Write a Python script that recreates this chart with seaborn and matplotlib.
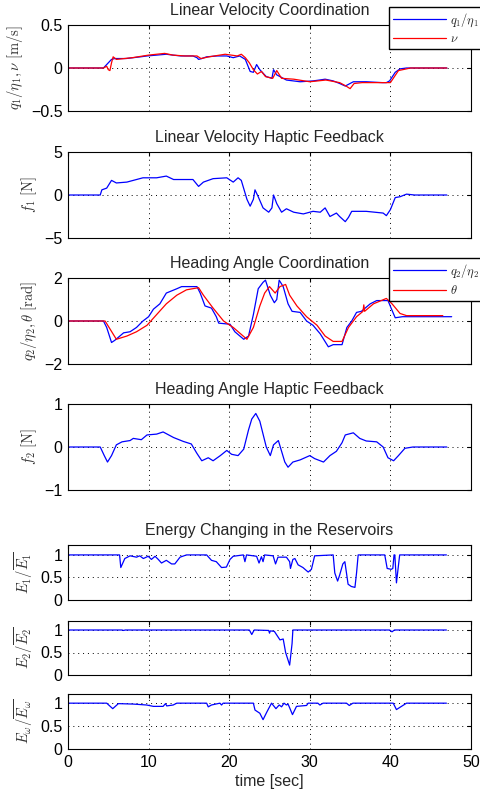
import matplotlib
matplotlib.use("Agg")
import matplotlib.pyplot as plt
import seaborn as sns
import numpy as np

# ---- data -------------------------------------------------------------
t_q1 = [0, 4.0, 4.4, 4.8, 5.4, 5.8, 6.5, 7.2, 8.1, 9.0,
        9.8, 11.0, 12.2, 13.0, 14.0, 15.5, 16.0, 16.2, 16.6, 17.2,
        18.5, 19.7, 20.5, 21.3, 22.0, 22.6, 23.0, 23.4, 23.8, 24.6,
        25.3, 25.5, 25.9, 27.1, 28.8, 30.4, 31.2, 31.9, 32.9, 33.7,
        34.4, 35.0, 35.4, 37.0, 39.0, 39.5, 39.9, 40.6, 41.2, 42.0,
        47.0]
q1 = [0, 0, 0.0, 0.04, 0.10, 0.11, 0.11, 0.11, 0.12, 0.13,
      0.14, 0.15, 0.16, 0.15, 0.14, 0.14, 0.12, 0.10, 0.11, 0.13,
      0.14, 0.14, 0.12, 0.14, 0.10, -0.04, -0.05, 0.04, -0.02, -0.10,
      -0.12, -0.02, -0.08, -0.14, -0.16, -0.15, -0.14, -0.13, -0.15, -0.18,
      -0.21, -0.18, -0.16, -0.16, -0.17, -0.17, -0.15, -0.05, -0.01, 0,
      0]

t_nu = [0, 4.4, 4.8, 5.0, 5.2, 5.4, 5.6, 6.0, 7.0, 8.0,
        10.0, 12.0, 13.0, 14.5, 16.0, 16.5, 17.5, 19.5, 21.0, 21.5,
        22.0, 22.5, 23.0, 23.5, 24.0, 24.5, 25.4, 25.9, 26.5, 28.0,
        30.0, 32.0, 33.7, 34.5, 35.0, 35.5, 36.5, 38.0, 40.0, 40.5,
        41.0, 42.0, 42.5, 47.0]
nu = [0, 0, 0.02, -0.02, -0.03, 0.06, 0.13, 0.10, 0.11, 0.12,
      0.15, 0.17, 0.15, 0.14, 0.14, 0.11, 0.13, 0.16, 0.14, 0.16,
      0.12, 0.06, -0.02, -0.07, -0.04, -0.10, -0.12, -0.03, -0.12, -0.13,
      -0.16, -0.14, -0.17, -0.21, -0.24, -0.18, -0.17, -0.17, -0.17, -0.10,
      -0.03, -0.01, 0, 0]

t_f1 = [0, 4.0, 4.2, 4.8, 5.4, 6.0, 7.3, 8.1, 9.3, 11.0,
        12.2, 13.1, 15.5, 16.2, 16.8, 18.0, 19.7, 20.5, 21.1, 21.5,
        22.2, 22.6, 23.0, 23.2, 23.6, 24.2, 24.9, 25.3, 25.5, 25.9,
        26.5, 27.1, 28.0, 29.2, 30.4, 31.3, 31.9, 32.5, 33.3, 33.7,
        34.4, 34.8, 35.2, 37.0, 39.1, 39.5, 40.0, 40.6, 41.2, 42.0,
        43.0, 47.0]
f1 = [0, 0, 0.6, 0.8, 1.7, 1.4, 1.5, 1.7, 2.0, 2.0,
      2.2, 1.8, 1.8, 1.0, 1.5, 1.9, 2.0, 1.5, 2.0, 1.7,
      -0.5, -1.3, -0.5, 0.6, -0.2, -1.5, -2.0, -1.5, 0.0, -1.0,
      -2.0, -1.6, -2.0, -2.2, -1.9, -2.0, -1.5, -2.5, -2.1, -2.5,
      -3.1, -2.6, -1.9, -1.9, -2.1, -2.4, -1.7, -0.3, -0.2, 0.1,
      0.0, 0.0]

t_q2 = [0, 4.4, 4.8, 5.4, 5.8, 6.9, 7.7, 8.5, 9.3, 10.0,
        10.6, 11.4, 12.2, 13.5, 14.1, 16.0, 16.4, 17.0, 17.8, 18.4,
        18.7, 20.1, 20.7, 21.8, 22.4, 23.0, 23.6, 24.2, 24.5, 25.1,
        25.6, 25.9, 26.2, 26.7, 27.3, 27.8, 28.8, 29.6, 30.4, 31.3,
        32.3, 32.9, 34.0, 34.6, 35.2, 35.8, 36.4, 37.5, 38.3, 39.7,
        40.2, 40.6, 41.5, 47.6]
q2 = [0, 0, -0.3, -1.0, -0.9, -0.55, -0.5, -0.3, 0.0, 0.2,
      0.55, 0.8, 1.3, 1.5, 1.6, 1.6, 1.3, 0.7, 0.6, 0.2,
      -0.1, -0.15, -0.5, -0.85, -0.7, 0.3, 1.5, 1.8, 1.9, 1.2,
      0.85, 1.0, 1.9, 1.6, 0.8, 0.45, 0.4, 0.0, -0.2, -0.6,
      -1.2, -1.1, -1.1, -0.3, 0.0, 0.4, 0.45, 0.8, 0.95, 0.95,
      0.5, 0.15, 0.2, 0.2]

t_theta = [0, 4.6, 6.0, 7.3, 8.5, 9.8, 11.0, 12.2, 13.5, 14.7,
           16.2, 16.8, 18.0, 19.3, 20.5, 22.2, 23.0, 23.8, 24.4, 25.0,
           25.7, 26.3, 27.0, 27.5, 28.4, 29.6, 30.9, 31.9, 32.9, 34.0,
           34.8, 35.8, 36.6, 36.7, 36.8, 37.9, 39.5, 40.2, 41.2, 42.0,
           46.5]
theta = [0, 0, -0.85, -0.7, -0.5, -0.2, 0.3, 0.8, 1.2, 1.45,
         1.55, 1.2, 0.6, 0.0, -0.3, -0.85, -0.3, 0.7, 1.3, 1.6,
         1.3, 1.6, 1.7, 1.2, 0.7, 0.2, -0.2, -0.7, -0.95, -0.95,
         -0.3, 0.2, 0.45, 0.75, 0.45, 0.8, 1.05, 0.8, 0.35, 0.25,
         0.25]

t_f2 = [0, 4.0, 4.5, 4.9, 5.4, 6.0, 6.7, 7.7, 8.1, 9.1,
        9.8, 11.0, 11.8, 13.1, 14.3, 15.3, 16.0, 16.6, 17.4, 18.0,
        18.9, 19.7, 20.3, 21.1, 21.8, 22.4, 22.8, 23.3, 23.8, 24.6,
        25.1, 25.5, 26.1, 26.5, 26.9, 27.3, 27.9, 28.8, 30.0, 30.6,
        31.7, 32.5, 33.3, 34.0, 34.4, 35.4, 36.2, 37.0, 38.3, 39.1,
        39.7, 40.4, 41.0, 41.8, 42.8, 47.0]
f2 = [0, 0, -0.2, -0.35, -0.2, 0.05, 0.12, 0.15, 0.2, 0.17,
      0.28, 0.3, 0.35, 0.22, 0.13, 0.07, -0.15, -0.32, -0.25, -0.32,
      -0.2, -0.08, -0.17, -0.2, -0.05, 0.4, 0.65, 0.78, 0.6, 0.0,
      -0.2, 0.05, 0.15, -0.1, -0.35, -0.47, -0.35, -0.3, -0.2, -0.27,
      -0.35, -0.2, -0.1, 0.1, 0.28, 0.33, 0.2, 0.14, 0.12, 0.0,
      -0.25, -0.32, -0.2, -0.03, 0.0, 0.0]

t_e1 = [0, 6.4, 6.55, 7.05, 7.7, 8.5, 8.9, 9.35, 9.95, 10.35,
        10.8, 11.2, 11.6, 12.2, 12.85, 13.25, 13.9, 14.7, 17.2, 17.8,
        18.4, 19.05, 19.65, 20.1, 20.5, 21.75, 21.95, 22.15, 23.4, 23.7,
        24.0, 24.2, 24.4, 25.45, 25.75, 26.05, 27.1, 27.5, 27.6, 27.9,
        28.15, 28.55, 29.15, 29.6, 29.8, 30.2, 30.6, 32.9, 33.1, 33.45,
        33.7, 34.1, 34.35, 34.75, 35.15, 35.6, 35.8, 36.0, 39.3, 39.6,
        40.1, 40.3, 40.45, 40.55, 40.75, 41.15, 46.95]
e1 = [1, 1, 0.72, 0.92, 0.98, 0.95, 0.98, 0.92, 0.97, 0.9,
      0.97, 0.9, 0.82, 0.88, 0.8, 0.8, 0.95, 1.0, 1.0, 0.88,
      0.85, 0.72, 0.73, 0.9, 0.97, 1.0, 0.85, 1.0, 0.97, 0.82,
      0.96, 0.85, 1.0, 0.98, 0.8, 0.95, 0.95, 0.85, 0.7, 0.9,
      0.92, 0.78, 0.72, 0.65, 0.62, 0.68, 0.98, 1.0, 0.6, 0.42,
      0.55, 0.8, 0.85, 0.35, 0.3, 0.28, 0.6, 1.0, 1.0, 0.7,
      0.68, 0.7, 1.0, 1.0, 0.38, 1.0, 1.0]

t_e2 = [0, 6.7, 6.9, 7.1, 22.5, 22.8, 23.1, 24.9, 25.0, 25.1,
        25.6, 26.3, 26.7, 27.0, 27.5, 27.8, 27.9, 39.9, 40.2, 40.5,
        46.95]
e2 = [1, 1, 0.99, 1, 1, 0.9, 1, 0.99, 0.93, 0.98,
      0.97, 0.78, 0.8, 0.5, 0.22, 0.7, 1.0, 1.0, 0.96, 1.0,
      1.0]

t_ew = [0, 4.8, 5.55, 6.25, 8.1, 9.75, 10.6, 11.8, 12.1, 12.25,
        13.05, 13.5, 17.2, 17.4, 17.8, 18.85, 19.05, 19.25, 23.0, 23.2,
        23.8, 24.2, 24.65, 25.25, 25.8, 26.2, 26.5, 26.8, 27.1, 27.3,
        27.5, 27.85, 28.35, 29.6, 29.8, 31.0, 31.25, 31.65, 34.55, 34.9,
        35.35, 40.35, 40.75, 41.55, 42.0, 46.95]
ew = [1, 1, 0.88, 0.99, 0.98, 0.96, 0.93, 0.93, 0.99, 0.94,
      0.96, 1.0, 1.0, 0.92, 0.96, 1.0, 0.96, 1.0, 1.0, 0.85,
      0.78, 0.64, 0.8, 1.0, 0.88, 0.96, 0.92, 1.0, 0.96, 0.98,
      0.9, 0.75, 0.93, 0.95, 1.0, 1.0, 0.96, 1.0, 1.0, 0.95,
      1.0, 1.0, 0.86, 0.95, 1.0, 1.0]

x_ticks = [0, 10, 20, 30, 40, 50]

# ---- style ------------------------------------------------------------
sns.set_style("white")
plt.rcParams["font.family"] = ["Liberation Sans", "DejaVu Sans"]
plt.rcParams["mathtext.fontset"] = "cm"
plt.rcParams["font.size"] = 11.5

fig = plt.figure(figsize=(4.8, 7.98), dpi=100)
W, H = 480.0, 798.0
L, R = 68, 471

def make_axes(top, bottom):
    return fig.add_axes([L / W, 1 - bottom / H, (R - L) / W, (bottom - top) / H])

def style(ax, ylim, yticks, ylabel, title=None, xlabels=False):
    ax.set_xlim(0, 50)
    ax.set_ylim(*ylim)
    ax.set_xticks(x_ticks)
    ax.set_yticks(yticks)
    ax.set_yticklabels([("%g" % v).replace("-", "\u2212") for v in yticks])
    if not xlabels:
        ax.set_xticklabels([])
    ax.tick_params(direction="in", length=3, width=0.8, labelsize=11.5,
                   top=True, right=True, pad=4, colors="black")
    ax.grid(True, linestyle=(0, (1, 4)), color="black", linewidth=0.7)
    for s in ax.spines.values():
        s.set_color("black")
        s.set_linewidth(0.8)
    ax.set_ylabel(ylabel, fontsize=10.5, color="#333333")
    ax.set_xlabel("")
    if title:
        ax.set_title(title, fontsize=11.5, pad=7)

def line(ax, x, y, color, label=None):
    sns.lineplot(x=x, y=y, ax=ax, color=color, linewidth=0.9,
                 estimator=None, label=label, legend=False)

def add_legend(ax, top_px):
    h, l = ax.get_legend_handles_labels()
    fig.legend(h, l, loc="upper left", bbox_to_anchor=(389 / W, 1 - top_px / H),
               bbox_transform=fig.transFigure, borderaxespad=0, fancybox=False,
               framealpha=1, edgecolor="black", fontsize=9, handlelength=4.2,
               borderpad=0.35, labelspacing=0.35, handletextpad=0.3)

# Linear velocity coordination
ax1 = make_axes(25, 111)
line(ax1, t_q1, q1, "blue", r"$q_1/\eta_1$")
line(ax1, t_nu, nu, "red", r"$\nu$")
style(ax1, (-0.5, 0.5), [-0.5, 0, 0.5], r"$q_1/\eta_1, \nu\ [\mathrm{m/s}]$",
      "Linear Velocity Coordination")
add_legend(ax1, 7)

# Linear velocity haptic feedback
ax2 = make_axes(152, 238)
line(ax2, t_f1, f1, "blue")
style(ax2, (-5, 5), [-5, 0, 5], r"$f_1\ [\mathrm{N}]$",
      "Linear Velocity Haptic Feedback")

# Heading angle coordination
ax3 = make_axes(278, 364)
line(ax3, t_q2, q2, "blue", r"$q_2/\eta_2$")
line(ax3, t_theta, theta, "red", r"$\theta$")
style(ax3, (-2, 2), [-2, 0, 2], r"$q_2/\eta_2, \theta\ [\mathrm{rad}]$",
      "Heading Angle Coordination")
add_legend(ax3, 258)

# Heading angle haptic feedback
ax4 = make_axes(404, 490)
line(ax4, t_f2, f2, "blue")
style(ax4, (-1, 1), [-1, 0, 1], r"$f_2\ [\mathrm{N}]$",
      "Heading Angle Haptic Feedback")

# Energy in the reservoirs
ax5 = make_axes(545, 600)
line(ax5, t_e1, e1, "blue")
style(ax5, (0, 1.22), [0, 0.5, 1], r"$E_1/\overline{E_1}$",
      "Energy Changing in the Reservoirs")

ax6 = make_axes(621, 675)
line(ax6, t_e2, e2, "blue")
style(ax6, (0, 1.2), [0, 0.5, 1], r"$E_2/\overline{E_2}$")

ax7 = make_axes(694, 749)
line(ax7, t_ew, ew, "blue")
style(ax7, (0, 1.2), [0, 0.5, 1], r"$E_\omega/\overline{E_\omega}$", xlabels=True)
ax7.set_xlabel("time [sec]", fontsize=11.5, labelpad=3)

fig.savefig("out.png", dpi=100)
